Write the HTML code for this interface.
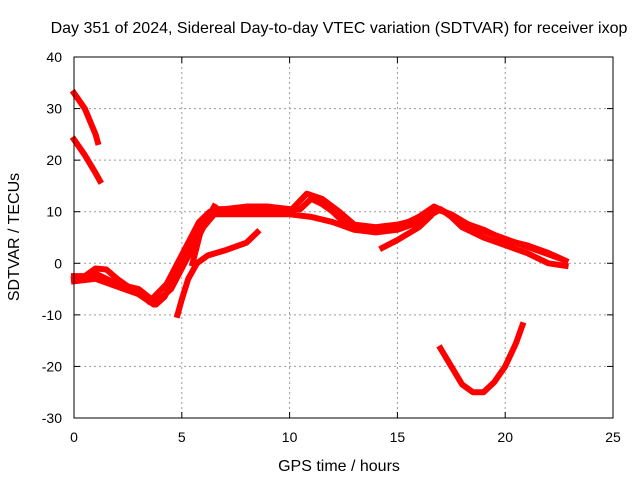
<!DOCTYPE html>
<html><head><meta charset="utf-8"><style>
body{margin:0;background:#fff;font-family:"Liberation Sans",sans-serif;}
svg text{font-family:"Liberation Sans",sans-serif;font-size:14px;fill:#000;}
svg text.big{font-size:16px;}
</style></head><body>
<svg id="chart" width="640" height="480">
<text class="big" x="339" y="33" text-anchor="middle">Day 351 of 2024, Sidereal Day-to-day VTEC variation (SDTVAR) for receiver ixop</text>
<text class="big" x="339" y="471" text-anchor="middle">GPS time / hours</text>
<text class="big" transform="translate(19,237) rotate(-90)" text-anchor="middle">SDTVAR / TECUs</text>
<g id="grid"></g><g id="series"></g>
<rect x="74" y="57" width="539" height="361" fill="none" stroke="#000" stroke-width="1"/>
<g id="ticks"></g>
</svg>
<script>
const xTicks=[0,5,10,15,20,25];
const yTicks=[-30,-20,-10,0,10,20,30,40];
const seriesA=[[0,33],[0.5,30],[1,25],[1.1,23.5]];
const seriesB=[[0,24],[0.5,21],[1,17.5],[1.2,16]];
const seriesC=[[0,-2.5],[0.5,-2.5],[1,-1],[1.5,-1.2],[2,-3],[2.5,-4.5],[3,-5.5],[3.5,-7.5],[3.8,-8],[4.2,-6.5],[4.6,-3],[5,1],[5.5,5],[6,8],[6.5,10.5],[7,10.5],[8,11],[9,11],[10,10.5],[10.5,10.5],[11,12.5],[11.5,11.5],[12,10],[12.5,8],[13,7],[14,6.5],[15,7],[16,9],[16.7,11],[17.2,10],[18,8],[19,6.5],[20,4.5],[21,3.5],[22,2],[22.8,0.5]];
const seriesC2=[[0,-3.5],[1,-3],[2,-4.5],[3,-6],[3.7,-8],[4.5,-5],[5,-1],[5.5,3],[6,7],[6.5,9.5],[7,9.5],[8,9.5],[9,9.5],[10,9.5],[11,9],[12,8],[13,6.5],[14,6],[15,6.5],[16,8],[17,10.5],[17.5,9],[18,7],[19,5],[20,3.5],[21,2],[22,0],[22.8,-0.5]];
const seriesC3=[[0,-3],[1,-2],[2,-4],[3,-5],[3.6,-7],[4.3,-4],[4.8,0],[5.3,4],[5.8,8],[6.3,10],[7,10],[8,10],[9,10],[10,10],[10.8,13.5],[11.5,12.5],[12.3,10],[13,7.5],[14,7],[15,7.5],[16,8.5],[16.8,10.5],[17.5,9.5],[18.5,7],[19.5,5.5],[20.5,4],[21.5,2.5],[22.5,1]];
const seriesD=[[4.8,-10],[5,-7],[5.3,-3],[5.7,0],[6.2,1.5],[7,2.5],[8,4],[8.5,6]];
const seriesE=[[5.5,0],[5.8,5],[6,8],[6.3,9.5],[6.5,11]];
const seriesF=[[14.3,3],[15,4.5],[16,7],[16.5,9]];
const seriesG=[[17,-16.5],[17.5,-20],[18,-23.5],[18.5,-25],[19,-25],[19.5,-23],[20,-20],[20.5,-15.5],[20.8,-12]];
const allSeries=[seriesA,seriesB,seriesC,seriesC2,seriesC3,seriesD,seriesE,seriesF,seriesG];
const X0=74,X1=613,Y0=418,Y1=57;
const sx=v=>X0+(v-0)/(25-0)*(X1-X0);
const sy=v=>Y0-(v+30)/(70)*(Y0-Y1);
const NS="http://www.w3.org/2000/svg";
const grid=document.getElementById('grid'),ticks=document.getElementById('ticks'),ser=document.getElementById('series');
function mk(tag,attrs,parent){const e=document.createElementNS(NS,tag);for(const k in attrs)e.setAttribute(k,attrs[k]);parent.appendChild(e);return e;}
xTicks.forEach(t=>{const x=sx(t);
 if(t>0&&t<25){const l=mk('line',{x1:x,x2:x,y1:Y1,y2:Y0,stroke:'#999','stroke-dasharray':'2,3'},grid);
 
 }
 mk('line',{x1:x,x2:x,y1:Y0,y2:Y0-6,stroke:'#000'},ticks);
 mk('line',{x1:x,x2:x,y1:Y1,y2:Y1+6,stroke:'#000'},ticks);
 const tx=mk('text',{x:x,y:Y0+24,'text-anchor':'middle'},ticks);tx.textContent=t;
 
 });
yTicks.forEach(t=>{const y=sy(t);
 if(t>-30&&t<40){const l=mk('line',{x1:X0,x2:X1,y1:y,y2:y,stroke:'#999','stroke-dasharray':'2,3'},grid);
 
 }
 mk('line',{x1:X0,x2:X0+6,y1:y,y2:y,stroke:'#000'},ticks);
 mk('line',{x1:X1,x2:X1-6,y1:y,y2:y,stroke:'#000'},ticks);
 const tx=mk('text',{x:X0-12,y:y+5,'text-anchor':'end'},ticks);tx.textContent=t;
 
 });
allSeries.forEach((s,i)=>{const p=mk('polyline',{points:s.map(d=>sx(d[0])+','+sy(d[1])).join(' '),fill:'none',stroke:'#f00','stroke-width':6,'stroke-linejoin':'round','stroke-linecap':'square'},ser);
 
 });
</script>
</body></html>
